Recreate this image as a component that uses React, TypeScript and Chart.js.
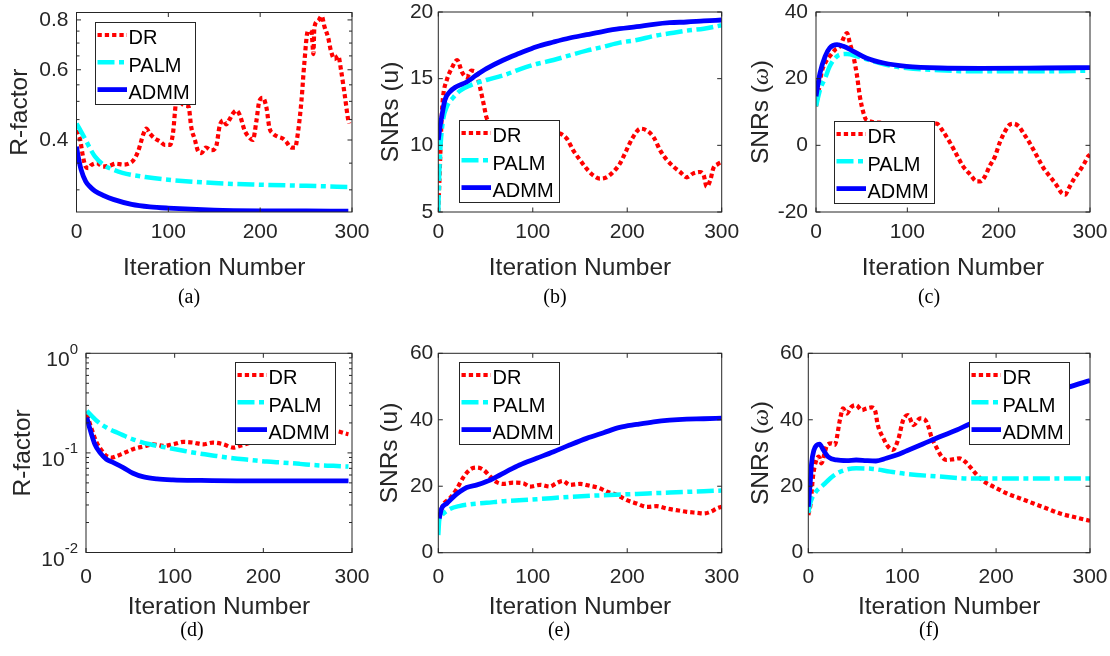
import React, { useEffect, useRef } from "react";
import { Chart, registerables } from "chart.js";

Chart.register(...registerables);

type Pt = [number, number];

// ---------- shared labels ----------
const methods = ["DR", "PALM", "ADMM"];
const xTicks = [0, 100, 200, 300];
const xTitle = "Iteration Number";

// ---------- (a) R-factor, log axis ----------
const aYTicks = [0.4, 0.6, 0.8];
const aYMinor = [0.3, 0.35, 0.45, 0.5, 0.55, 0.65, 0.7, 0.75];
const aDR: Pt[] = [
  [0, 0.423], [4, 0.4], [7, 0.364], [10, 0.343], [13, 0.34], [16, 0.346], [22, 0.35], [29, 0.343],
  [36, 0.345], [43, 0.349], [51, 0.347], [58, 0.35], [62, 0.356], [67, 0.374], [73, 0.415], [76, 0.427],
  [80, 0.415], [85, 0.404], [91, 0.397], [96, 0.389], [102, 0.389], [105, 0.415], [109, 0.503], [112, 0.5],
  [118, 0.488], [122, 0.485], [125, 0.43], [129, 0.4], [132, 0.377], [136, 0.371], [141, 0.383], [147, 0.377],
  [152, 0.385], [156, 0.435], [160, 0.448], [163, 0.438], [167, 0.452], [170, 0.465], [174, 0.474], [178, 0.461],
  [183, 0.423], [189, 0.404], [192, 0.4], [196, 0.448], [199, 0.5], [203, 0.51], [207, 0.48], [210, 0.43],
  [214, 0.415], [219, 0.408], [225, 0.403], [228, 0.397], [234, 0.383], [238, 0.383], [241, 0.415], [245, 0.503],
  [248, 0.62], [252, 0.751], [256, 0.74], [258, 0.657], [259, 0.766], [263, 0.795], [267, 0.818], [270, 0.77],
  [274, 0.723], [277, 0.67], [281, 0.638], [285, 0.65], [288, 0.6], [292, 0.52], [296, 0.448], [297, 0.44],
];
const aPALM: Pt[] = [
  [0, 0.44], [5, 0.42], [10, 0.4], [15, 0.38], [20, 0.364], [30, 0.346], [40, 0.337], [50, 0.331],
  [75, 0.323], [100, 0.318], [150, 0.312], [200, 0.309], [250, 0.307], [297, 0.305],
];
const aADMM: Pt[] = [
  [0, 0.385], [2, 0.362], [5, 0.337], [10, 0.315], [15, 0.305], [20, 0.298], [30, 0.29], [40, 0.284],
  [60, 0.276], [80, 0.272], [100, 0.27], [150, 0.267], [200, 0.2658], [250, 0.2655], [296, 0.2654],
];

// ---------- (b) SNRs (u) ----------
const bYTicks = [5, 10, 15, 20];
const bDR: Pt[] = [
  [0, 5.0], [2, 9], [3.5, 12], [5, 13.6], [9, 14.9], [14, 15.75], [20, 16.4], [25, 15.5], [30, 15.1],
  [35, 15.6], [40, 15.5], [44, 14.4], [48, 13.1], [51, 12.1], [58, 11.4], [70, 11.2], [85, 11.1],
  [100, 11.0], [115, 11.0], [128, 10.9], [136, 10.5], [143, 9.6], [150, 8.9], [157, 8.25], [164, 7.75],
  [171, 7.5], [178, 7.6], [185, 8.0], [192, 8.6], [199, 9.6], [206, 10.6], [214, 11.25], [221, 11.1],
  [228, 10.6], [235, 9.6], [242, 8.9], [249, 8.4], [256, 8.0], [263, 7.6], [270, 7.9], [277, 8.0],
  [281, 7.75], [284, 6.9], [288, 7.4], [291, 8.25], [296, 8.6], [300, 8.75],
];
const bPALM: Pt[] = [
  [0, 5.0], [1, 7.9], [2.5, 10.1], [5, 11.9], [9, 12.9], [16, 13.6], [23, 14.1], [34, 14.5], [51, 14.9],
  [69, 15.25], [86, 15.7], [104, 16.1], [122, 16.4], [139, 16.75], [157, 17.1], [175, 17.4], [192, 17.7],
  [210, 17.9], [228, 18.2], [245, 18.4], [263, 18.6], [281, 18.75], [300, 19.0],
];
const bADMM: Pt[] = [
  [0, 10.4], [2, 11.5], [3.5, 12.1], [7, 13.4], [12, 14.0], [19, 14.4], [30, 14.75], [40, 15.25],
  [51, 15.75], [69, 16.4], [86, 16.9], [104, 17.4], [122, 17.75], [139, 18.05], [157, 18.3], [175, 18.55],
  [192, 18.75], [210, 18.9], [228, 19.08], [245, 19.2], [263, 19.25], [281, 19.33], [300, 19.4],
];

// ---------- (c) SNRs (omega) ----------
const cYTicks = [-20, 0, 20, 40];
const cDR: Pt[] = [
  [0, 11.7], [2.6, 15.7], [6, 21.7], [10, 24.7], [15, 26.7], [21, 28.7], [26, 29.7], [32, 33.2], [34, 33.7],
  [37, 30.7], [41, 26.7], [45, 20.7], [48, 14.7], [52, 9.7], [55, 7.7], [70, 6.8], [90, 6.5], [110, 6.5],
  [132, 6.5], [139, 4.2], [147, 0.7], [154, -2.8], [161, -6.3], [169, -8.8], [176, -10.8], [180, -10.8],
  [185, -9.3], [190, -6.3], [196, -3.3], [201, 0.7], [207, 4.2], [212, 6.2], [216, 6.5], [222, 5.7],
  [227, 3.7], [234, 0.7], [242, -3.3], [249, -6.8], [256, -9.3], [263, -11.8], [269, -14.3], [273, -14.8],
  [276, -13.3], [282, -10.3], [287, -8.3], [293, -5.8], [298, -3.3], [300, -2.8],
];
const cPALM: Pt[] = [
  [0, 11.7], [4.4, 16.7], [10, 20.2], [15, 23.7], [21, 26.2], [26, 27.2], [34, 27.4], [45, 26.7],
  [63, 25.2], [81, 23.9], [99, 23.2], [136, 22.5], [172, 22.2], [250, 22.2], [300, 22.4],
];
const cADMM: Pt[] = [
  [0, 14.7], [4.4, 21.7], [10, 26.7], [15, 29.2], [23, 30.2], [30, 29.7], [41, 28.2], [55, 26.2],
  [74, 24.7], [99, 23.7], [136, 23.2], [180, 23.1], [250, 23.2], [300, 23.3],
];

// ---------- (d) R-factor, log axis ----------
const dYTicks = [0.01, 0.1, 1];
const dYExp = ["-2", "-1", "0"];
const dYMinor = [0.02, 0.03, 0.04, 0.05, 0.06, 0.07, 0.08, 0.09, 0.2, 0.3, 0.4, 0.5, 0.6, 0.7, 0.8, 0.9];
const dDR: Pt[] = [
  [1, 0.244], [6.4, 0.173], [12, 0.127], [18, 0.105], [23, 0.0933], [29, 0.0898], [35, 0.0933], [42, 0.099],
  [53, 0.109], [65, 0.116], [76, 0.122], [87, 0.1175], [98, 0.122], [110, 0.129], [121, 0.127], [132, 0.122],
  [143, 0.127], [155, 0.122], [166, 0.113], [174, 0.118], [190, 0.13], [210, 0.14], [230, 0.15], [250, 0.158],
  [265, 0.165], [280, 0.166], [296, 0.154],
];
const dPALM: Pt[] = [
  [1, 0.264], [12, 0.21], [23, 0.18], [35, 0.16], [53, 0.137], [72, 0.122], [91, 0.113], [110, 0.105],
  [128, 0.0985], [147, 0.0933], [166, 0.0884], [185, 0.0851], [204, 0.0818], [222, 0.0799], [241, 0.0776],
  [260, 0.0752], [279, 0.0741], [296, 0.073],
];
const dADMM: Pt[] = [
  [1, 0.226], [4.5, 0.173], [10, 0.122], [16, 0.1], [23, 0.0864], [31, 0.08], [42, 0.0713], [53, 0.0625],
  [65, 0.0574], [80, 0.0548], [98, 0.0536], [128, 0.0529], [170, 0.0524], [296, 0.0524],
];

// ---------- (e) SNRs (u) ----------
const eYTicks = [0, 20, 40, 60];
const eDR: Pt[] = [
  [1, 10.8], [5, 14.3], [12, 16.3], [19, 18.9], [27, 22.9], [34, 25.1], [41, 25.6], [48, 24.9], [55, 22.9],
  [62, 21.2], [69, 20.7], [79, 21.1], [90, 20.9], [97, 19.9], [108, 20.4], [118, 19.9], [125, 20.9],
  [132, 21.6], [139, 20.4], [150, 20.7], [161, 20.1], [171, 19.4], [178, 18.4], [189, 17.4], [199, 15.9],
  [210, 14.8], [221, 13.8], [231, 14.0], [242, 13.3], [252, 12.8], [263, 12.3], [274, 12.0], [281, 11.8],
  [288, 12.3], [295, 13.3], [300, 13.8],
];
const ePALM: Pt[] = [
  [0, 5.3], [1, 9.8], [3.5, 11.3], [12, 13.1], [23, 14.1], [34, 14.6], [51, 15.0], [69, 15.5], [104, 16.1],
  [139, 16.8], [175, 17.3], [210, 17.7], [245, 18.1], [281, 18.5], [300, 18.7],
];
const eADMM: Pt[] = [
  [1, 10.3], [3.5, 13.3], [9, 14.8], [16, 16.8], [23, 18.4], [30, 19.6], [41, 20.4], [51, 21.4], [62, 22.9],
  [72, 24.4], [86, 26.4], [104, 28.4], [122, 30.4], [139, 32.4], [157, 34.4], [175, 36.1], [192, 37.7],
  [210, 38.6], [228, 39.4], [245, 39.9], [263, 40.2], [281, 40.3], [300, 40.5],
];

// ---------- (f) SNRs (omega) ----------
const fYTicks = [0, 20, 40, 60];
const fDR: Pt[] = [
  [0, 11.3], [2.5, 14.8], [5, 22.9], [8, 27.4], [11, 28.9], [14, 26.9], [17, 29.5], [20, 32.4], [25, 32.9],
  [28, 32.4], [34, 40.4], [37, 43.4], [41, 41.9], [46, 43.9], [51, 44.4], [57, 42.9], [62, 43.4], [67, 43.7],
  [71, 42.9], [74, 38.4], [80, 34.4], [85, 31.9], [90, 30.9], [96, 34.3], [101, 39.9], [106, 41.4],
  [112, 38.4], [119, 40.4], [124, 40.1], [128, 37.9], [131, 34.9], [137, 31.4], [142, 28.9], [147, 27.9],
  [154, 28.1], [161, 28.4], [167, 27.4], [172, 25.9], [178, 23.9], [183, 22.4], [190, 20.9], [197, 19.9],
  [211, 17.9], [225, 16.4], [240, 14.8], [254, 13.3], [268, 11.8], [282, 10.8], [300, 9.6],
];
const fPALM: Pt[] = [
  [0, 12.0], [2.5, 15.3], [7, 17.9], [16, 20.4], [27, 23.2], [37, 24.7], [51, 25.4], [69, 25.2], [87, 24.4],
  [105, 23.7], [140, 22.9], [176, 22.3], [211, 22.3], [300, 22.3],
];
const fADMM: Pt[] = [
  [0, 13.8], [2, 20.9], [3.5, 26.9], [6, 30.9], [9, 32.4], [12, 32.7], [16, 30.9], [21, 28.9], [30, 27.9],
  [41, 27.7], [51, 27.9], [62, 27.7], [72, 27.6], [83, 28.4], [94, 29.4], [105, 30.7], [122, 32.7],
  [140, 34.9], [158, 36.9], [172, 38.7], [190, 40.6], [210, 42.7], [230, 44.8], [250, 46.8], [278, 49.9],
  [300, 51.8],
];

// ---------- styling ----------
const SANS = "'Liberation Sans', Arial, Helvetica, sans-serif";
const SERIF = "'Liberation Serif', 'Times New Roman', serif";
const AX = "#262626";
const CELL_W = 370;
const CELL_H = 328;

const lineStyles = [
  { color: "#ff0000", dash: [4.3, 3], width: 4.2 },
  { color: "#00ffff", dash: [17, 4.5, 5, 4.5], width: 4.5 },
  { color: "#0000ff", dash: [] as number[], width: 4.8 },
];

type TitlePart = { text: string; font: string };
const sansTitle = `24.5px ${SANS}`;
const omegaTitle: TitlePart[] = [
  { text: "SNRs (", font: sansTitle },
  { text: "ω", font: `italic 24px ${SERIF}` },
  { text: ")", font: sansTitle },
];
const rTitle: TitlePart[] = [{ text: "R-factor", font: sansTitle }];
const uTitle: TitlePart[] = [{ text: "SNRs (u)", font: sansTitle }];

interface Panel {
  caption: string;
  col: number;
  row: number;
  area: { l: number; t: number; r: number; b: number };
  yType: "linear" | "logarithmic";
  yMin: number;
  yMax: number;
  yTicks: number[];
  yMinor?: number[];
  supExp?: string[];
  yTickPad: number;
  title: TitlePart[];
  titleX: number;
  legend: { x: number; y: number };
  capX: number;
  capY: number;
  xTickPad: number;
  xTitleOff: number;
  series: Pt[][];
}

const panels: Panel[] = [
  {
    caption: "(a)", col: 0, row: 0, area: { l: 76.5, t: 12.5, r: 352, b: 212 },
    yType: "logarithmic", yMin: 0.264, yMax: 0.835, yTicks: aYTicks, yMinor: aYMinor, yTickPad: 8,
    title: rTitle, titleX: 27, legend: { x: 95, y: 22 }, capX: 189, capY: 303, xTickPad: 10, xTitleOff: 63,
    series: [aDR, aPALM, aADMM],
  },
  {
    caption: "(b)", col: 1, row: 0, area: { l: 68.3, t: 12, r: 351.7, b: 212 },
    yType: "linear", yMin: 5, yMax: 20, yTicks: bYTicks, yTickPad: 5,
    title: uTitle, titleX: 28, legend: { x: 89, y: 120 }, capX: 185, capY: 303, xTickPad: 10, xTitleOff: 63,
    series: [bDR, bPALM, bADMM],
  },
  {
    caption: "(c)", col: 2, row: 0, area: { l: 76, t: 12, r: 350, b: 212 },
    yType: "linear", yMin: -20, yMax: 40, yTicks: cYTicks, yTickPad: 8,
    title: omegaTitle, titleX: 28, legend: { x: 94, y: 121 }, capX: 189, capY: 303, xTickPad: 10, xTitleOff: 63,
    series: [cDR, cPALM, cADMM],
  },
  {
    caption: "(d)", col: 0, row: 1, area: { l: 86, t: 25.3, r: 352, b: 224.5 },
    yType: "logarithmic", yMin: 0.01, yMax: 1, yTicks: dYTicks, yMinor: dYMinor, supExp: dYExp, yTickPad: 8,
    title: rTitle, titleX: 30, legend: { x: 235, y: 34 }, capX: 192, capY: 308, xTickPad: 14.5, xTitleOff: 61,
    series: [dDR, dPALM, dADMM],
  },
  {
    caption: "(e)", col: 1, row: 1, area: { l: 68.3, t: 25.3, r: 351.7, b: 224.7 },
    yType: "linear", yMin: 0, yMax: 60, yTicks: eYTicks, yTickPad: 5,
    title: uTitle, titleX: 27, legend: { x: 89, y: 34 }, capX: 189, capY: 308, xTickPad: 14.5, xTitleOff: 61,
    series: [eDR, ePALM, eADMM],
  },
  {
    caption: "(f)", col: 2, row: 1, area: { l: 68.3, t: 25.3, r: 350, b: 224.7 },
    yType: "linear", yMin: 0, yMax: 60, yTicks: fYTicks, yTickPad: 5,
    title: omegaTitle, titleX: 28, legend: { x: 229, y: 34 }, capX: 189, capY: 308, xTickPad: 14.5, xTitleOff: 61,
    series: [fDR, fPALM, fADMM],
  },
];

function drawDecor(chart: any, p: Panel) {
  const ctx: CanvasRenderingContext2D = chart.ctx;
  const { left, right, top, bottom } = chart.chartArea;
  const xs = chart.scales.x;
  const ys = chart.scales.y;
  const seg = (x1: number, y1: number, x2: number, y2: number) => {
    ctx.beginPath();
    ctx.moveTo(x1, y1);
    ctx.lineTo(x2, y2);
    ctx.stroke();
  };
  ctx.save();
  ctx.strokeStyle = AX;
  ctx.lineWidth = 1;
  ctx.setLineDash([]);
  const TL = 4.5;
  const TM = 3;
  for (const v of xTicks) {
    const px = xs.getPixelForValue(v);
    seg(px, bottom, px, bottom - TL);
    seg(px, top, px, top + TL);
  }
  for (const v of p.yTicks) {
    const py = ys.getPixelForValue(v);
    seg(left, py, left + TL, py);
    seg(right, py, right - TL, py);
  }
  for (const v of p.yMinor || []) {
    const py = ys.getPixelForValue(v);
    seg(left, py, left + TM, py);
    seg(right, py, right - TM, py);
  }
  ctx.strokeRect(left, top, right - left, bottom - top);

  // superscript tick labels (log axis)
  if (p.supExp) {
    ctx.fillStyle = AX;
    ctx.textBaseline = "alphabetic";
    ctx.textAlign = "right";
    p.yTicks.forEach((v, i) => {
      const py = ys.getPixelForValue(v);
      const exp = p.supExp![i];
      ctx.font = `15px ${SANS}`;
      const ew = ctx.measureText(exp).width;
      const xr = left - p.yTickPad;
      ctx.fillText(exp, xr, py + 0.4);
      ctx.font = `21px ${SANS}`;
      ctx.fillText("10", xr - ew, py + 13);
    });
  }

  // legend
  const L = p.legend.x;
  const T = p.legend.y;
  ctx.fillStyle = "#ffffff";
  ctx.fillRect(L, T, 100, 82);
  ctx.strokeStyle = AX;
  ctx.lineWidth = 1;
  ctx.strokeRect(L + 0.5, T + 0.5, 100, 82);
  chart.data.datasets.forEach((ds: any, i: number) => {
    const st = lineStyles[i];
    const ly = T + 13 + 27.3 * i;
    ctx.strokeStyle = st.color;
    ctx.lineWidth = st.width;
    ctx.setLineDash(st.dash);
    ctx.lineDashOffset = 0;
    seg(L + 2.5, ly, L + 32, ly);
    ctx.setLineDash([]);
    ctx.fillStyle = "#000000";
    ctx.font = `20px ${SANS}`;
    ctx.textAlign = "left";
    ctx.textBaseline = "alphabetic";
    ctx.fillText(ds.label, L + 33.5, T + 22.2 + 27.3 * i);
  });

  // x title
  ctx.fillStyle = AX;
  ctx.font = sansTitle;
  ctx.textAlign = "center";
  ctx.textBaseline = "alphabetic";
  ctx.fillText(xTitle, (left + right) / 2, bottom + p.xTitleOff);

  // y title (rotated, mixed fonts)
  ctx.save();
  ctx.translate(p.titleX, (top + bottom) / 2);
  ctx.rotate(-Math.PI / 2);
  ctx.textAlign = "left";
  let total = 0;
  for (const part of p.title) {
    ctx.font = part.font;
    total += ctx.measureText(part.text).width;
  }
  let cx = -total / 2;
  for (const part of p.title) {
    ctx.font = part.font;
    ctx.fillText(part.text, cx, 0);
    cx += ctx.measureText(part.text).width;
  }
  ctx.restore();

  // caption
  ctx.fillStyle = "#000000";
  ctx.font = `20px ${SERIF}`;
  ctx.textAlign = "center";
  ctx.fillText(p.caption, p.capX, p.capY);
  ctx.restore();
}

function PanelChart({ p }: { p: Panel }) {
  const ref = useRef<HTMLCanvasElement>(null);
  useEffect(() => {
    const canvas = ref.current;
    if (!canvas) return;
    const decor = {
      id: "decor",
      afterDraw: (chart: any) => drawDecor(chart, p),
    };
    const tickFont = { family: SANS, size: 21, lineHeight: 1 };
    const yAxisW = p.area.l;
    const xAxisH = CELL_H - p.area.b;
    const chart = new Chart(canvas, {
      type: "line",
      data: {
        datasets: p.series.map((s, i) => ({
          label: methods[i],
          data: s.map(([x, y]) => ({ x, y })),
          borderColor: lineStyles[i].color,
          borderWidth: lineStyles[i].width,
          borderDash: lineStyles[i].dash,
          borderJoinStyle: "round" as const,
          pointRadius: 0,
          fill: false,
          cubicInterpolationMode: "monotone" as const,
          order: 3 - i,
        })),
      },
      options: {
        responsive: false,
        animation: false,
        events: [],
        layout: {
          padding: {
            left: 0,
            top: p.area.t,
            right: CELL_W - p.area.r,
            bottom: 0,
          },
        },
        plugins: {
          legend: { display: false },
          tooltip: { enabled: false },
          title: { display: false },
        },
        scales: {
          x: {
            type: "linear",
            min: 0,
            max: 300,
            grid: { display: false, drawTicks: false },
            border: { display: false },
            afterBuildTicks: (s: any) => {
              s.ticks = xTicks.map((v) => ({ value: v }));
            },
            afterFit: (s: any) => {
              s.height = xAxisH;
              s.paddingLeft = 0;
              s.paddingRight = 0;
            },
            ticks: {
              color: AX,
              font: tickFont,
              padding: p.xTickPad,
              maxRotation: 0,
              autoSkip: false,
              callback: (v: any) => String(v),
            },
          },
          y: {
            type: p.yType,
            min: p.yMin,
            max: p.yMax,
            grid: { display: false, drawTicks: false },
            border: { display: false },
            afterBuildTicks: (s: any) => {
              s.ticks = p.yTicks.map((v) => ({ value: v }));
            },
            afterFit: (s: any) => {
              s.width = yAxisW;
              s.paddingTop = 0;
              s.paddingBottom = 0;
            },
            ticks: {
              display: !p.supExp,
              color: AX,
              font: tickFont,
              padding: p.yTickPad,
              autoSkip: false,
              callback: (v: any) => String(v),
            },
          },
        },
      } as any,
      plugins: [decor],
    });
    return () => chart.destroy();
  }, [p]);
  return (
    <canvas
      ref={ref}
      width={CELL_W}
      height={CELL_H}
      style={{
        position: "absolute",
        left: p.col * CELL_W,
        top: p.row * CELL_H,
        width: CELL_W,
        height: CELL_H,
      }}
    />
  );
}

export default function App() {
  return (
    <div
      style={{
        position: "absolute",
        left: 0,
        top: 0,
        width: 1110,
        height: 656,
        background: "#ffffff",
        overflow: "hidden",
      }}
    >
      {panels.map((p) => (
        <PanelChart key={p.caption} p={p} />
      ))}
    </div>
  );
}
